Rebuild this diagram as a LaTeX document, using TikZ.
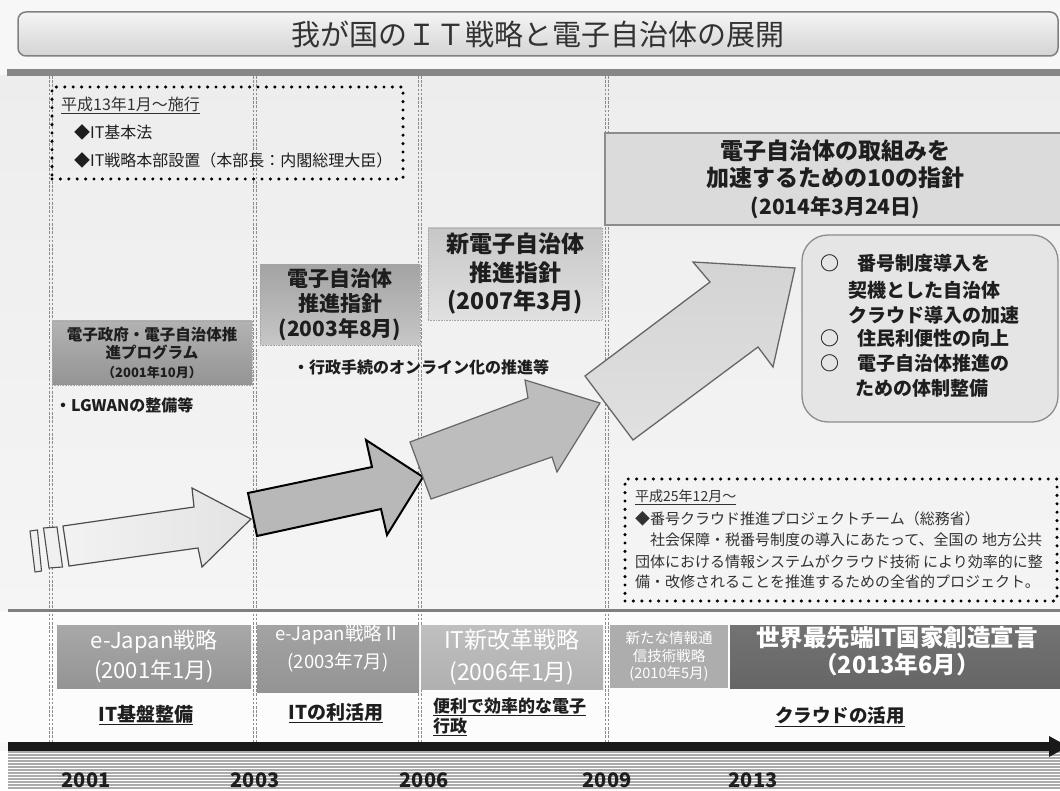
\documentclass[tikz,border=0pt]{standalone}
\usepackage{fontspec}
\setmainfont{Noto Sans CJK JP}
\definecolor{txt}{RGB}{30,30,30}
\definecolor{txtgray}{RGB}{50,50,50}
\newcommand{\fsz}[2]{\fontsize{#1}{#2}\selectfont}
\tikzset{
  vl/.style={draw=black!45, line width=1pt, dash pattern=on 2.6pt off 1.6pt},
  dotbox/.style={draw=black, line width=3.4pt, dash pattern=on 0pt off 8.4pt, line cap=round, inner sep=0pt},
  gbox/.style={draw=black!35, densely dotted, line width=0.6pt, inner sep=0pt, align=center, text=txt},
  barbox/.style={inner sep=0pt, align=center, text=white},
  lbl/.style={inner sep=0pt, text=txt},
}
\begin{document}
\begin{tikzpicture}[x=1pt,y=-1pt]
\useasboundingbox (0,0) rectangle (1060,791);
\clip (0,0) rectangle (1060,791);
% backgrounds
\fill[black!3] (0,0) rectangle (1060,791);
\shade[top color=black!7, bottom color=black!4] (0,76) rectangle (1060,609);
\fill[black!1] (0,612) rectangle (1060,742);
% title bar
\node[draw=black!50, line width=1.5pt, rounded corners=8pt, top color=black!4, bottom color=black!17,
      minimum width=1040, minimum height=44, inner sep=0pt, text=txtgray, font=\fsz{29}{32}] (title) at (538,34) {我が国のＩＴ戦略と電子自治体の展開};
% top band
\fill[black!47] (7,69) rectangle (1060,76);
% vertical dotted lines
\foreach \x in {51,255,420,607}{
  \draw[vl] (\x-1.2,76) -- (\x-1.2,742);
  \draw[vl] (\x+1.2,76) -- (\x+1.2,742);
}
% top-left dotted box
\node[dotbox, minimum width=351, minimum height=92] (lawbox) at (227.5,133) {};
\node[lbl, anchor=west, text=txtgray, font=\fsz{16}{19}] (h13) at (61,105) {\underline{平成13年1月～施行}};
\node[lbl, anchor=west, font=\fsz{16}{19}] (kihon) at (74,132) {◆IT基本法};
\node[lbl, anchor=west, font=\fsz{16}{19}] (honbu) at (74,160) {◆IT戦略本部設置（本部長：内閣総理大臣）};
% program box
\node[gbox, top color=black!30, bottom color=black!42, minimum width=200, minimum height=64, font=\bfseries\fsz{15.5}{18.5}] (prog) at (152,353)
  {電子政府・電子自治体推\\進プログラム\\{\fsz{13}{18.5}（2001年10月）}};
\node[lbl, anchor=west, font=\bfseries\fsz{16}{19}] (lgwan) at (55,405) {・LGWANの整備等};
% shishin 2003
\node[gbox, top color=black!36, bottom color=black!22, minimum width=160, minimum height=80, font=\bfseries\fsz{21}{25}] (sh1) at (340,305)
  {電子自治体\\推進指針\\(2003年8月)};
\node[lbl, anchor=west, font=\bfseries\fsz{16}{19}] (online) at (293,367) {・行政手続のオンライン化の推進等};
% shishin 2007
\node[gbox, top color=black!22, bottom color=black!12, minimum width=174, minimum height=92, font=\bfseries\fsz{23}{28.5}] (sh2) at (515,274)
  {新電子自治体\\推進指針\\(2007年3月)};
% 10 shishin
\node[draw=black!45, line width=1.2pt, fill=black!14, minimum width=461, minimum height=92, inner sep=0pt, align=center, text=txt,
      font=\bfseries\fsz{23}{27.5}] (ten) at (835.5,179)
  {電子自治体の取組みを\\加速するための10の指針\\{\fsz{21}{27.5}(2014年3月24日)}};
% goal rounded box
\node[draw=black!45, line width=1.3pt, fill=black!10, rounded corners=26pt, minimum width=256, minimum height=187, inner sep=0pt] (goal) at (930,328.5) {};
\begin{scope}[every node/.style={lbl, font=\bfseries\fsz{19}{22}}]
\node (c1) at (830,263) {○};
\node[anchor=west] (g1) at (857,263) {番号制度導入を};
\node[anchor=west] (g2) at (848,290) {契機とした自治体};
\node[anchor=west] (g3) at (848,315) {クラウド導入の加速};
\node (c2) at (830,338) {○};
\node[anchor=west] (g4) at (857,338) {住民利便性の向上};
\node (c3) at (830,363) {○};
\node[anchor=west] (g5) at (857,363) {電子自治体推進の};
\node[anchor=west] (g6) at (855,388) {ための体制整備};
\end{scope}
% bottom-right dotted box
\node[dotbox, minimum width=432, minimum height=122] (ptbox) at (841,540) {};
\begin{scope}[every node/.style={lbl, anchor=west, text=txtgray, font=\fsz{15}{18}}]
\node (p0) at (635,497) {\fsz{14}{18}\underline{平成25年12月～}};
\node (p1) at (635,519) {◆番号クラウド推進プロジェクトチーム（総務省）};
\node (p2) at (635,540) {　社会保障・税番号制度の導入にあたって、全国の 地方公共};
\node (p3) at (635,562) {団体における情報システムがクラウド技術 により効率的に整};
\node (p4) at (635,582) {備・改修されることを推進するための全省的プロジェクト。};
\end{scope}
% arrows
\filldraw[fill=black!6, draw=black!70, line width=1.1pt] (30,531) -- (37.5,530) -- (41.5,571) -- (35,572) -- cycle;
\filldraw[fill=black!6, draw=black!70, line width=1.1pt] (43.5,528) -- (57,527) -- (62.5,567) -- (49,568) -- cycle;
\shadedraw[left color=black!5, right color=black!11, draw=black!70, line width=1.2pt, line join=miter]
  (63,526) -- (194,507) -- (192,488) -- (251,519) -- (202,567) -- (198,548) -- (69,566) -- cycle;
\filldraw[fill=black!28, draw=black, line width=2pt, line join=miter]
  (248,493) -- (372,467) -- (366,440) -- (423,477) -- (387,535) -- (381,509) -- (257,536) -- cycle;
\filldraw[fill=black!26, draw=black!60, line width=1.2pt, line join=miter]
  (410,442) -- (528,398) -- (525,380) -- (600,403) -- (557,472) -- (552,457) -- (431,499) -- cycle;
\shadedraw[top color=black!17, bottom color=black!12, draw=black!60, line width=1.3pt, line join=miter]
  (585,376) -- (710,282) -- (693,262) -- (795,268) -- (773,367) -- (758,347) -- (633,440) -- cycle;
% horizontal separator
\draw[black!50, line width=3pt] (8,610) -- (1060,610);
% bottom bars
\node[barbox, top color=black!34, bottom color=black!42, minimum width=194, minimum height=63, font=\fsz{22}{30}] (b1) at (154,656.5)
  {e-Japan戦略\\(2001年1月)};
\node[barbox, top color=black!36, bottom color=black!42, minimum width=162, minimum height=67] (b2) at (338,658.5) {};
\node[barbox, font=\fsz{18.5}{28}] (b2t) at (338,649) {e-Japan戦略Ⅱ\\(2003年7月)};
\node[barbox, top color=black!25, bottom color=black!31, minimum width=182, minimum height=64, font=\fsz{23}{32}] (b3) at (512,657)
  {IT新改革戦略\\(2006年1月)};
\node[barbox, fill=black!32, minimum width=118, minimum height=63, font=\fsz{14.5}{17.5}] (b4) at (669,656.5)
  {新たな情報通\\信技術戦略\\(2010年5月)};
\node[barbox, top color=black!55, bottom color=black!60, minimum width=336, minimum height=63] (b5) at (898,656.5) {};
\node[barbox, font=\bfseries\fsz{23.5}{27}] (b5t) at (897,651.5) {世界最先端IT国家創造宣言\\（2013年6月）};
% underlined labels
\node[lbl, font=\bfseries\fsz{19}{22}] (l1) at (146,715) {\underline{IT基盤整備}};
\node[lbl, font=\bfseries\fsz{19}{22}] (l2) at (336,713) {\underline{ITの利活用}};
\node[lbl, anchor=west, align=left, font=\bfseries\fsz{17}{20}] (l3) at (433,717) {\underline{便利で効率的な電子}\\\underline{行政}};
\node[lbl, font=\bfseries\fsz{18.5}{22}] (l4) at (840,717) {\underline{クラウドの活用}};
% stripes
\fill[white] (0,751) rectangle (1060,791);
\foreach \y in {752,755,...,790}{
  \draw[black!33, line width=1.3pt] (8,\y) -- (1060,\y);
}
% axis
\coordinate (axs) at (8,746);
\coordinate (axe) at (1052,746);
\draw[black!90, line width=9pt] (axs) -- (axe);
\fill[black!90] (1049,736) -- (1068,746.5) -- (1049,757) -- cycle;
% years
\begin{scope}[every node/.style={lbl, font=\bfseries\fsz{20}{22}}]
\node (y1) at (86,780) {2001};
\node (y2) at (255,780) {2003};
\node (y3) at (424,780) {2006};
\node (y4) at (607,780) {2009};
\node (y5) at (753,780) {2013};
\end{scope}
\end{tikzpicture}
\end{document}
